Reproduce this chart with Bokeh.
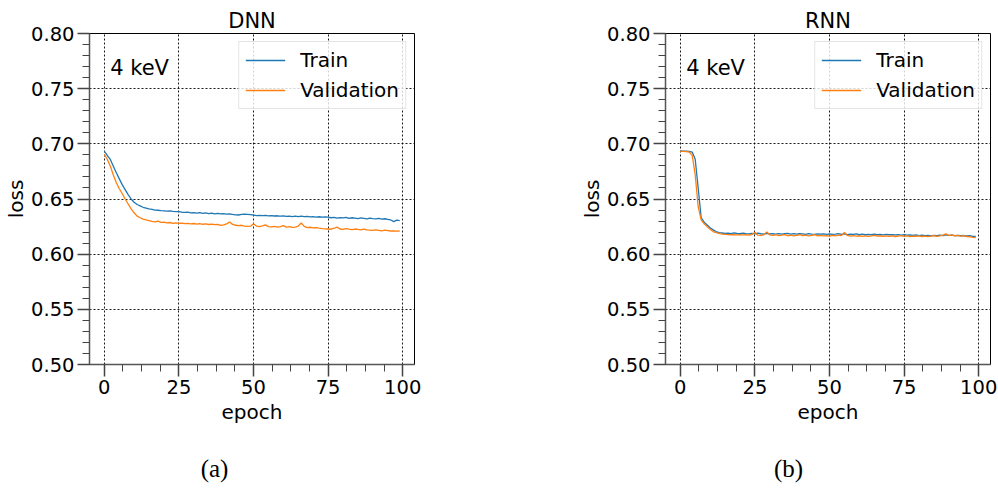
from bokeh.plotting import figure
from bokeh.layouts import row, column
from bokeh.models import Range1d, SingleIntervalTicker, NumeralTickFormatter, Label
from bokeh.embed import file_html
from bokeh.resources import INLINE

epochs = list(range(100))

dnn_train = [
    0.6935, 0.6895, 0.6860, 0.6800, 0.6740, 0.6685, 0.6630, 0.6585, 0.6540, 0.6500,
    0.6470, 0.6450, 0.6438, 0.6425, 0.6418, 0.6410, 0.6405, 0.6400, 0.6398, 0.6395,
    0.6393, 0.6390, 0.6392, 0.6388, 0.6385, 0.6386, 0.6380, 0.6378, 0.6382, 0.6375,
    0.6377, 0.6372, 0.6376, 0.6370, 0.6374, 0.6368, 0.6372, 0.6366, 0.6370, 0.6365,
    0.6368, 0.6363, 0.6366, 0.6360, 0.6356, 0.6355, 0.6360, 0.6362, 0.6361, 0.6358,
    0.6354, 0.6350, 0.6352, 0.6349, 0.6351, 0.6347, 0.6350, 0.6346, 0.6348, 0.6344,
    0.6347, 0.6342, 0.6345, 0.6341, 0.6344, 0.6340, 0.6345, 0.6341, 0.6343, 0.6338,
    0.6340, 0.6336, 0.6339, 0.6335, 0.6337, 0.6336, 0.6330, 0.6333, 0.6326, 0.6332,
    0.6329, 0.6334, 0.6325, 0.6330, 0.6327, 0.6322, 0.6328, 0.6324, 0.6320, 0.6326,
    0.6322, 0.6319, 0.6324, 0.6318, 0.6321, 0.6316, 0.6310, 0.6295, 0.6308, 0.6303,
]

dnn_val = [
    0.6905, 0.6860, 0.6800, 0.6720, 0.6650, 0.6595, 0.6550, 0.6500, 0.6455, 0.6410,
    0.6375, 0.6345, 0.6330, 0.6318, 0.6310, 0.6305, 0.6298, 0.6292, 0.6300, 0.6288,
    0.6290, 0.6283, 0.6287, 0.6280, 0.6284, 0.6279, 0.6282, 0.6276, 0.6280, 0.6275,
    0.6278, 0.6272, 0.6276, 0.6271, 0.6274, 0.6269, 0.6273, 0.6268, 0.6270, 0.6262,
    0.6266, 0.6275, 0.6292, 0.6270, 0.6262, 0.6258, 0.6262, 0.6255, 0.6251, 0.6254,
    0.6275, 0.6255, 0.6250, 0.6256, 0.6266, 0.6250, 0.6247, 0.6252, 0.6246, 0.6250,
    0.6258, 0.6245, 0.6250, 0.6242, 0.6246, 0.6255, 0.6282, 0.6252, 0.6240, 0.6244,
    0.6238, 0.6241, 0.6236, 0.6232, 0.6230, 0.6228, 0.6226, 0.6235, 0.6245, 0.6228,
    0.6225, 0.6232, 0.6226, 0.6222, 0.6228, 0.6224, 0.6220, 0.6226, 0.6221, 0.6218,
    0.6215, 0.6220, 0.6216, 0.6212, 0.6218, 0.6214, 0.6210, 0.6212, 0.6208, 0.6210,
]

rnn_train = [
    0.6935, 0.6934, 0.6933, 0.6931, 0.6925, 0.6860, 0.6600, 0.6330, 0.6290, 0.6265,
    0.6240, 0.6220, 0.6205, 0.6195, 0.6192, 0.6188, 0.6190, 0.6186, 0.6192, 0.6188,
    0.6185, 0.6190, 0.6186, 0.6183, 0.6188, 0.6184, 0.6190, 0.6185, 0.6182, 0.6189,
    0.6184, 0.6187, 0.6182, 0.6186, 0.6181, 0.6185, 0.6188, 0.6182, 0.6186, 0.6181,
    0.6185, 0.6183, 0.6180, 0.6186, 0.6182, 0.6179, 0.6184, 0.6181, 0.6183, 0.6180,
    0.6184, 0.6179, 0.6182, 0.6186, 0.6180, 0.6183, 0.6178, 0.6182, 0.6179, 0.6184,
    0.6178, 0.6181, 0.6176, 0.6180, 0.6177, 0.6181, 0.6176, 0.6179, 0.6175, 0.6180,
    0.6176, 0.6178, 0.6174, 0.6177, 0.6173, 0.6178, 0.6172, 0.6175, 0.6170, 0.6174,
    0.6168, 0.6172, 0.6167, 0.6171, 0.6166, 0.6170, 0.6168, 0.6173, 0.6169, 0.6174,
    0.6170, 0.6172, 0.6168, 0.6171, 0.6167, 0.6169, 0.6165, 0.6167, 0.6162, 0.6160,
]

rnn_val = [
    0.6933, 0.6932, 0.6930, 0.6926, 0.6895, 0.6720, 0.6430, 0.6310, 0.6275, 0.6250,
    0.6225, 0.6205, 0.6195, 0.6188, 0.6182, 0.6180, 0.6178, 0.6176, 0.6178, 0.6175,
    0.6177, 0.6174, 0.6176, 0.6173, 0.6178, 0.6198, 0.6172, 0.6170, 0.6175, 0.6202,
    0.6174, 0.6170, 0.6176, 0.6168, 0.6172, 0.6178, 0.6167, 0.6173, 0.6166, 0.6171,
    0.6176, 0.6168, 0.6172, 0.6165, 0.6170, 0.6176, 0.6166, 0.6171, 0.6165, 0.6169,
    0.6164, 0.6170, 0.6166, 0.6172, 0.6168, 0.6196, 0.6170, 0.6164, 0.6168, 0.6163,
    0.6167, 0.6162, 0.6166, 0.6161, 0.6166, 0.6170, 0.6163, 0.6167, 0.6162, 0.6166,
    0.6161, 0.6165, 0.6160, 0.6164, 0.6168, 0.6162, 0.6166, 0.6160, 0.6164, 0.6161,
    0.6165, 0.6160, 0.6163, 0.6159, 0.6164, 0.6168, 0.6162, 0.6166, 0.6172, 0.6184,
    0.6168, 0.6174, 0.6165, 0.6170, 0.6163, 0.6167, 0.6160, 0.6158, 0.6152, 0.6150,
]

titles = ["DNN", "RNN"]
captions = ["(a)", "(b)"]
energy_label = "4 keV"
series_names = ["Train", "Validation"]
series_colors = ["#1f77b4", "#ff7f0e"]

FONT = "DejaVu Sans"


def make_panel(title, train, val, border_left, border_right):
    p = figure(width=499, height=430, output_backend="svg", toolbar_location=None,
               x_range=Range1d(-4.95, 103.95), y_range=Range1d(0.5, 0.8),
               min_border_left=border_left, min_border_right=border_right,
               min_border_top=33, min_border_bottom=66)
    p.background_fill_color = "white"
    p.border_fill_color = "white"
    p.outline_line_color = "black"
    p.outline_line_width = 1

    p.title.text = title
    p.title.align = "center"
    p.title.text_font = FONT
    p.title.text_font_size = "21px"
    p.title.text_font_style = "normal"
    p.title.text_color = "black"
    p.title.standoff = 2

    p.xaxis.ticker = SingleIntervalTicker(interval=25, num_minor_ticks=4)
    p.yaxis.ticker = SingleIntervalTicker(interval=0.05, num_minor_ticks=5)
    p.yaxis.formatter = NumeralTickFormatter(format="0.00")
    p.xaxis.axis_label = "epoch"
    p.yaxis.axis_label = "loss"
    for ax in (p.xaxis, p.yaxis):
        ax.axis_label_text_font = FONT
        ax.axis_label_text_font_size = "20px"
        ax.axis_label_text_font_style = "normal"
        ax.axis_label_text_color = "black"
        ax.major_label_text_font = FONT
        ax.major_label_text_font_size = "19.5px"
        ax.major_label_text_color = "black"
        ax.major_label_standoff = 3
        ax.axis_line_color = "#555555"
        ax.axis_line_width = 1.5
        ax.major_tick_line_color = "#444444"
        ax.major_tick_line_width = 1.5
        ax.major_tick_out = 12
        ax.major_tick_in = 0
        ax.minor_tick_line_color = "#444444"
        ax.minor_tick_line_width = 1
        ax.minor_tick_out = 7
        ax.minor_tick_in = 0
    p.xaxis.axis_label_standoff = 3
    p.yaxis.axis_label_standoff = 0

    p.grid.grid_line_color = "black"
    p.grid.grid_line_dash = "2 2"
    p.grid.grid_line_width = 0.9

    p.line(epochs, train, color=series_colors[0], line_width=1.3, legend_label=series_names[0])
    p.line(epochs, val, color=series_colors[1], line_width=1.3, legend_label=series_names[1])

    lg = p.legend[0]
    lg.location = "top_right"
    lg.margin = 8
    lg.padding = 6
    lg.spacing = 6
    lg.glyph_width = 40
    lg.glyph_height = 20
    lg.label_height = 20
    lg.label_standoff = 15
    lg.label_text_font = FONT
    lg.label_text_font_size = "20px"
    lg.label_text_color = "black"
    lg.border_line_color = "#cccccc"
    lg.border_line_width = 1
    lg.background_fill_alpha = 0.8

    p.add_layout(Label(x=2, y=0.769, text=energy_label, text_font=FONT,
                       text_font_size="21px", text_align="left",
                       text_baseline="alphabetic", text_color="black"))
    return p


p1 = make_panel(titles[0], dnn_train, dnn_val, 89, 85)
p2 = make_panel(titles[1], rnn_train, rnn_val, 166, 8)

# caption strip below the two panels (pixel coordinates)
cap = figure(width=998, height=59, output_backend="svg", toolbar_location=None,
             x_range=Range1d(0, 998), y_range=Range1d(0, 59), min_border=0)
cap.axis.visible = False
cap.grid.visible = False
cap.outline_line_color = None
cap.background_fill_color = "white"
cap.border_fill_color = "white"
for cx, txt in zip([214, 788], captions):
    cap.add_layout(Label(x=cx, y=21, text=txt, text_font="Liberation Serif",
                         text_font_size="25px", text_align="center",
                         text_baseline="middle", text_color="black"))

layout = column(row(p1, p2), cap)
open("out.html", "w").write(file_html(layout, INLINE))
